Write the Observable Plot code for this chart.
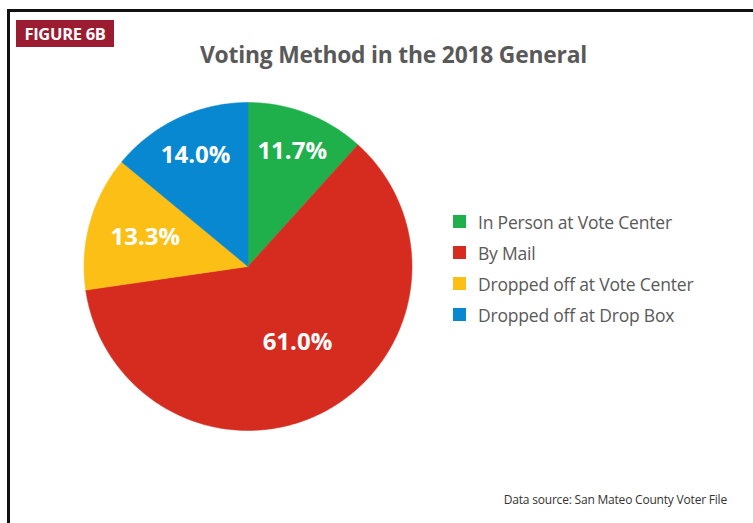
<!DOCTYPE html>
<html>
<head>
<meta charset="utf-8">
<script src="https://cdn.jsdelivr.net/npm/d3@7"></script>
<script src="https://cdn.jsdelivr.net/npm/@observablehq/plot@0.6"></script>
<style>
  html, body { margin: 0; padding: 0; background: #fff; }
  body { width: 753px; height: 523px; overflow: hidden; position: relative; font-family: "Open Sans", sans-serif; }
  #frame { position: absolute; left: 7px; top: 9px; width: 800px; height: 600px; border-top: 3px solid #111; border-left: 3px solid #111; box-sizing: border-box; }
  #fig { position: absolute; left: 16px; top: 20px; width: 98px; height: 27px; background: #9b1c31; color: #fff; font-weight: 700; font-size: 16.5px; line-height: 27px; text-align: center; letter-spacing: -0.3px; }
  #title { position: absolute; left: 0; width: 787px; top: 39px; text-align: center; color: #595959; font-weight: 700; font-size: 22.8px; letter-spacing: -0.2px; }
  #legend { position: absolute; left: 453px; top: 206px; }
  .item { height: 31px; display: flex; align-items: center; color: #595959; font-size: 17.5px; letter-spacing: -0.2px; }
  .sw { width: 13px; height: 13px; margin-right: 12px; }
  #caption { position: absolute; right: 26px; top: 491px; font-size: 12px; color: #333; letter-spacing: -0.2px; }
  #chart { position: absolute; left: 0; top: 0; }
</style>
</head>
<body>
<div id="chart"></div>
<div id="frame"></div>
<div id="fig">FIGURE 6B</div>
<div id="title">Voting Method in the 2018 General</div>
<div id="legend"></div>
<div id="caption">Data source: San Mateo County Voter File</div>
<script>
const categories = ["In Person at Vote Center", "By Mail", "Dropped off at Vote Center", "Dropped off at Drop Box"];
const values = [11.7, 61.0, 13.3, 14.0];
const labels = ["11.7%", "61.0%", "13.3%", "14.0%"];
const colors = ["#1fb04c", "#d62c20", "#fcbf16", "#0888d0"];
const labelRadius = [0.75, 0.55, 0.65, 0.75];
const labelTurn = [0, -0.09, 0, 0];

const W = 753, H = 523;
const cx = 247.5, cy = 266, R = 164;

const arcs = d3.pie().sort(null).startAngle(0).endAngle(2 * Math.PI)(values);

const poly = [];
arcs.forEach((a, i) => {
  poly.push({cat: categories[i], x: 0, y: 0});
  const n = Math.max(4, Math.ceil((a.endAngle - a.startAngle) / 0.01));
  for (let k = 0; k <= n; k++) {
    const t = a.startAngle + (a.endAngle - a.startAngle) * k / n;
    poly.push({cat: categories[i], x: Math.sin(t), y: Math.cos(t)});
  }
  poly.push({cat: categories[i], x: 0, y: 0});
});

const lab = arcs.map((a, i) => {
  const m = (a.startAngle + a.endAngle) / 2 + labelTurn[i];
  return {cat: categories[i], text: labels[i], x: labelRadius[i] * Math.sin(m), y: labelRadius[i] * Math.cos(m)};
});

const chart = Plot.plot({
  width: W, height: H,
  margin: 0,
  x: {domain: [-cx / R, (W - cx) / R], axis: null},
  y: {domain: [-(H - cy) / R, cy / R], axis: null},
  color: {domain: categories, range: colors},
  marks: [
    Plot.line(poly, {x: "x", y: "y", z: "cat", fill: "cat", stroke: "cat", strokeWidth: 0.5, curve: "linear"}),
    Plot.text(lab, {x: "x", y: "y", text: "text", fill: "white", fontSize: 24, fontWeight: 700, fontFamily: "Open Sans"})
  ]
});
document.getElementById("chart").appendChild(chart);

const leg = document.getElementById("legend");
categories.forEach((c, i) => {
  const d = document.createElement("div");
  d.className = "item";
  const s = document.createElement("div");
  s.className = "sw";
  s.style.background = colors[i];
  d.appendChild(s);
  d.appendChild(document.createTextNode(c));
  leg.appendChild(d);
});
</script>
</body>
</html>
